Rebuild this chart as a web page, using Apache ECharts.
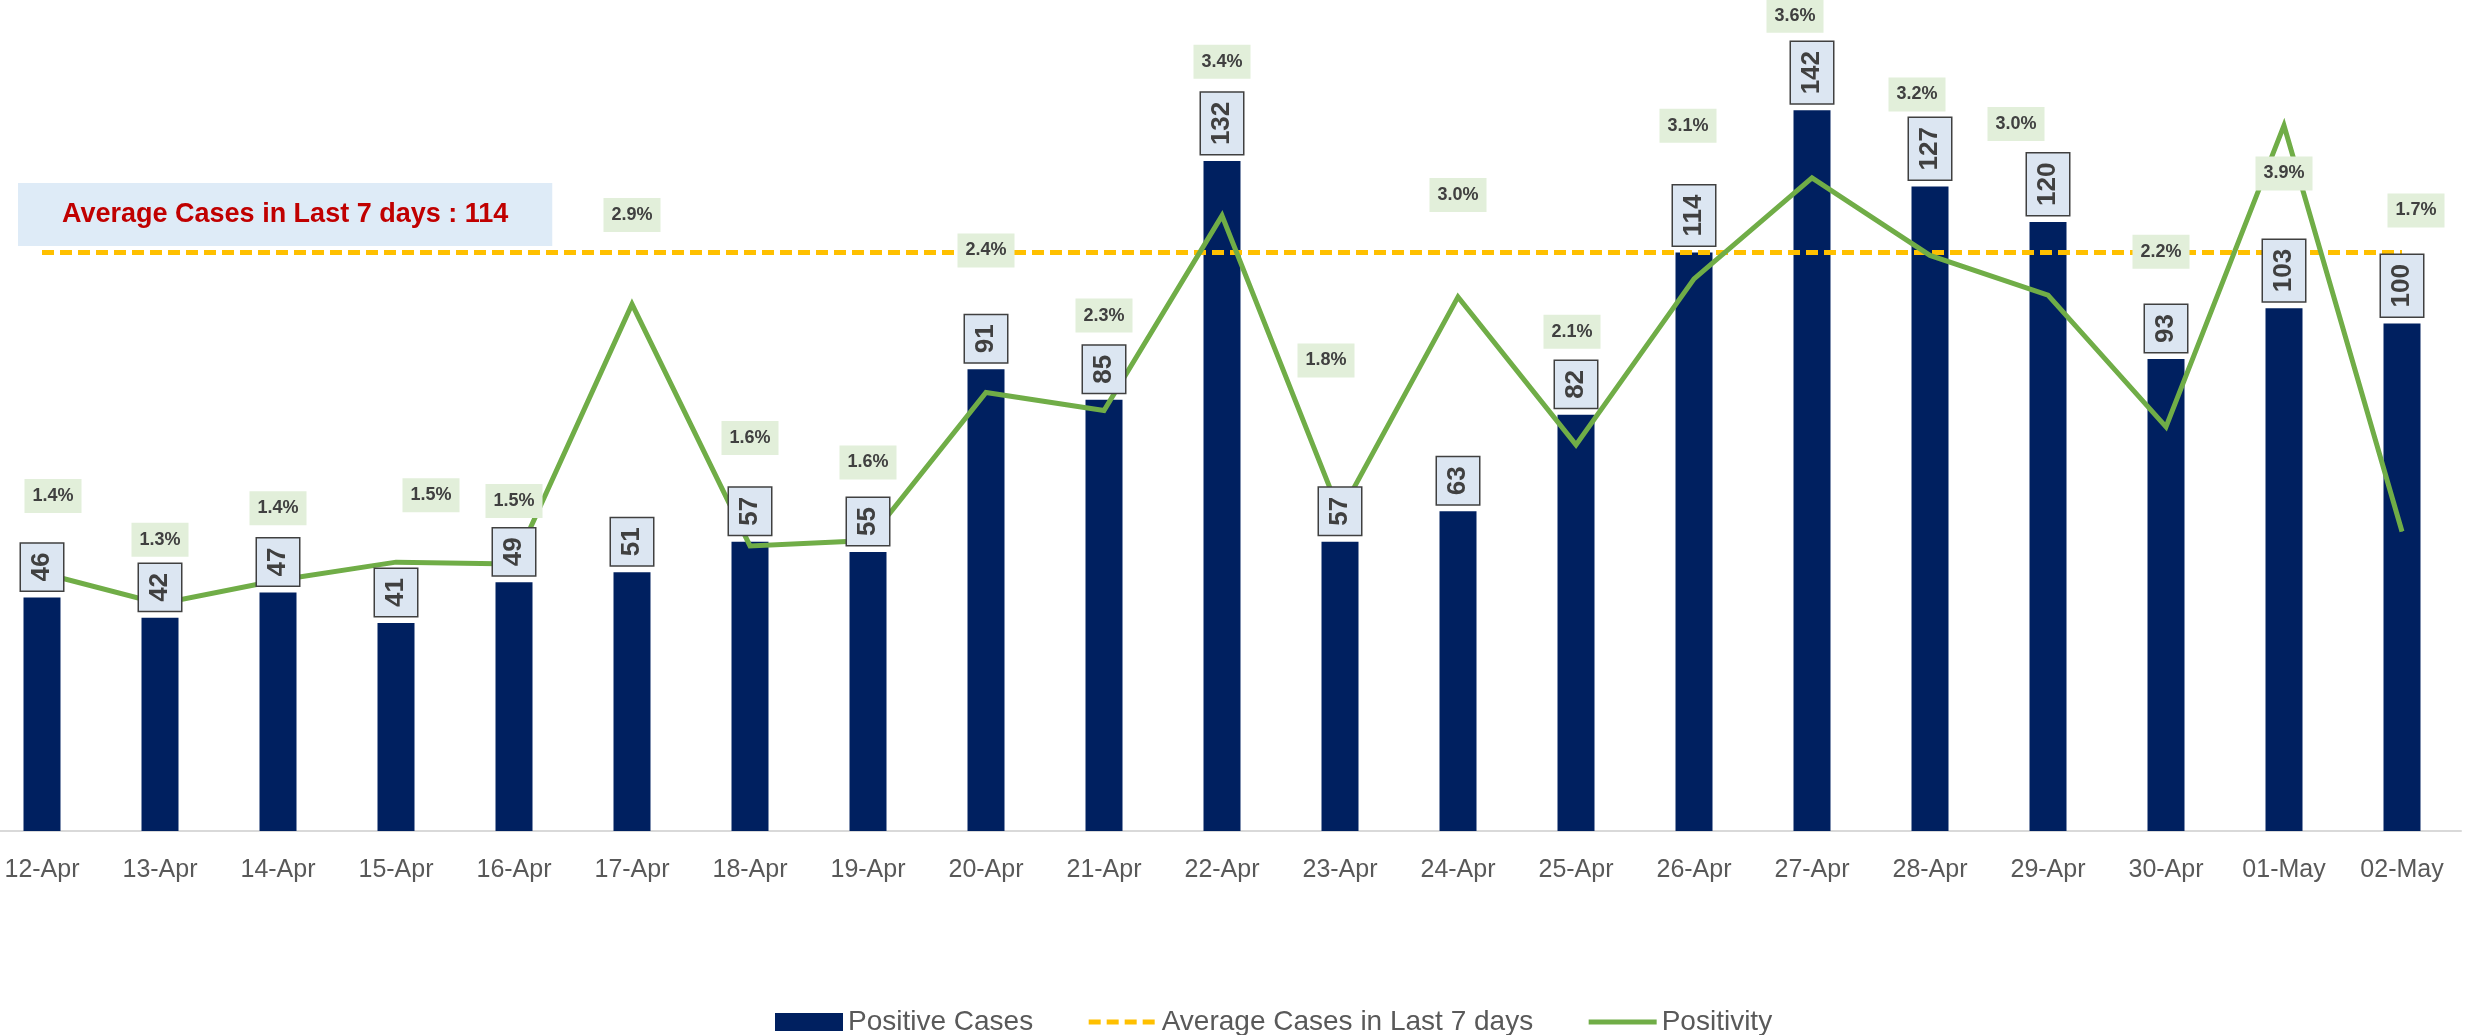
<!DOCTYPE html>
<html>
<head>
<meta charset="utf-8">
<script src="https://cdn.jsdelivr.net/npm/echarts@6/dist/echarts.min.js"></script>
<style>
  html, body { margin: 0; padding: 0; background: #ffffff; }
  #chart { width: 2478px; height: 1035px; }
</style>
</head>
<body>
<div id="chart"></div>
<script>
// ---------------- DATA ----------------
const categories = ['12-Apr','13-Apr','14-Apr','15-Apr','16-Apr','17-Apr','18-Apr','19-Apr','20-Apr','21-Apr','22-Apr',
                    '23-Apr','24-Apr','25-Apr','26-Apr','27-Apr','28-Apr','29-Apr','30-Apr','01-May','02-May'];
const positiveCases = [46, 42, 47, 41, 49, 51, 57, 55, 91, 85, 132, 57, 63, 82, 114, 142, 127, 120, 93, 103, 100];
const avgCases7d = 114;
const avgCasesLine = [114, 114, 114, 114, 114, 114, 114, 114, 114, 114, 114, 114, 114, 114, 114, 114, 114, 114, 114, 114, 114];
const positivity = [1.43, 1.26, 1.39, 1.49, 1.48, 2.92, 1.58, 1.61, 2.43, 2.33, 3.41, 1.76, 2.96, 2.14, 3.06, 3.62, 3.19, 2.97, 2.24, 3.91, 1.66];

// ---------------- LAYOUT (label placement offsets, px) ----------------
const pctLabelOffset = [[11,-77],[0,-64],[0,-72],[35,-67],[0,-63],[0,-89],[0,-108],[0,-78],[0,-142],[0,-95],[0,-154],
                        [-14,-153],[0,-102],[-4,-113],[-6,-153],[-17,-162],[-13,-161],[-32,-171],[-5,-175],[0,48],[14,-321]];

const FONT = '"Liberation Sans", Arial, sans-serif';

const chart = echarts.init(document.getElementById('chart'), null, { renderer: 'canvas' });

const option = {
  backgroundColor: '#ffffff',
  animation: false,
  title: {
    text: 'Average Cases in Last 7 days : ' + avgCases7d,
    left: 18,
    top: 183,
    padding: [18, 44],
    backgroundColor: '#DEEBF7',
    textStyle: { color: '#C00000', fontSize: 27, fontWeight: 'bold', fontFamily: FONT, lineHeight: 27 }
  },
  legend: {
    left: 775,
    top: 1008,
    padding: 0,
    itemWidth: 68,
    itemHeight: 18,
    itemGap: 53,
    textStyle: { fontSize: 28, color: '#595959', fontFamily: FONT },
    lineStyle: { width: 5 },
    data: [
      { name: 'Positive Cases', icon: 'rect' },
      { name: 'Average Cases in Last 7 days', itemStyle: { opacity: 0 } },
      { name: 'Positivity', itemStyle: { opacity: 0 } }
    ]
  },
  grid: { left: -17, right: 17, top: 19, bottom: 204, outerBoundsMode: 'none', containLabel: false },
  xAxis: {
    type: 'category',
    data: categories,
    axisLine: { lineStyle: { color: '#D9D9D9', width: 2 } },
    axisTick: { show: false },
    axisLabel: { interval: 0, fontSize: 25, color: '#595959', margin: 27, fontFamily: FONT },
    splitLine: { show: false }
  },
  yAxis: [
    { type: 'value', min: 0, max: 160, show: false, splitLine: { show: false } },
    { type: 'value', min: 0, max: 4.5, show: false, splitLine: { show: false } }
  ],
  series: [
    {
      name: 'Positive Cases',
      type: 'bar',
      data: positiveCases,
      barWidth: 37,
      itemStyle: { color: '#002060' },
      z: 2
    },
    {
      name: 'Average Cases in Last 7 days',
      type: 'line',
      data: avgCasesLine,
      symbol: 'none',
      lineStyle: { color: '#FFC000', width: 5, type: [12, 6] },
      itemStyle: { color: '#FFC000' },
      z: 3
    },
    {
      name: 'Positivity',
      type: 'line',
      yAxisIndex: 1,
      data: positivity.map((v, i) => ({ value: v, label: { offset: pctLabelOffset[i] } })),
      symbol: 'circle',
      symbolSize: 1,
      showSymbol: true,
      lineStyle: { color: '#70AD47', width: 5, join: 'miter' },
      itemStyle: { color: '#70AD47' },
      label: {
        show: true,
        position: 'inside',
        formatter: p => p.value.toFixed(1) + '%',
        fontSize: 18,
        fontWeight: 'bold',
        fontFamily: FONT,
        color: '#404040',
        backgroundColor: '#E2EFDA',
        padding: [8, 8],
        lineHeight: 18
      },
      z: 4
    },
    {
      name: 'casesLabels',
      type: 'bar',
      data: positiveCases,
      barWidth: 37,
      barGap: '-100%',
      silent: true,
      itemStyle: { color: 'rgba(0,0,0,0)' },
      label: {
        show: true,
        position: 'top',
        distance: 7,
        rotate: 90,
        align: 'left',
        verticalAlign: 'middle',
        fontSize: 26,
        fontWeight: 'bold',
        fontFamily: FONT,
        color: '#404040',
        backgroundColor: '#DCE6F2',
        borderColor: '#404040',
        borderWidth: 1.5,
        padding: [8, 9],
        lineHeight: 26
      },
      z: 5
    }
  ]
};

chart.setOption(option);
</script>
</body>
</html>
